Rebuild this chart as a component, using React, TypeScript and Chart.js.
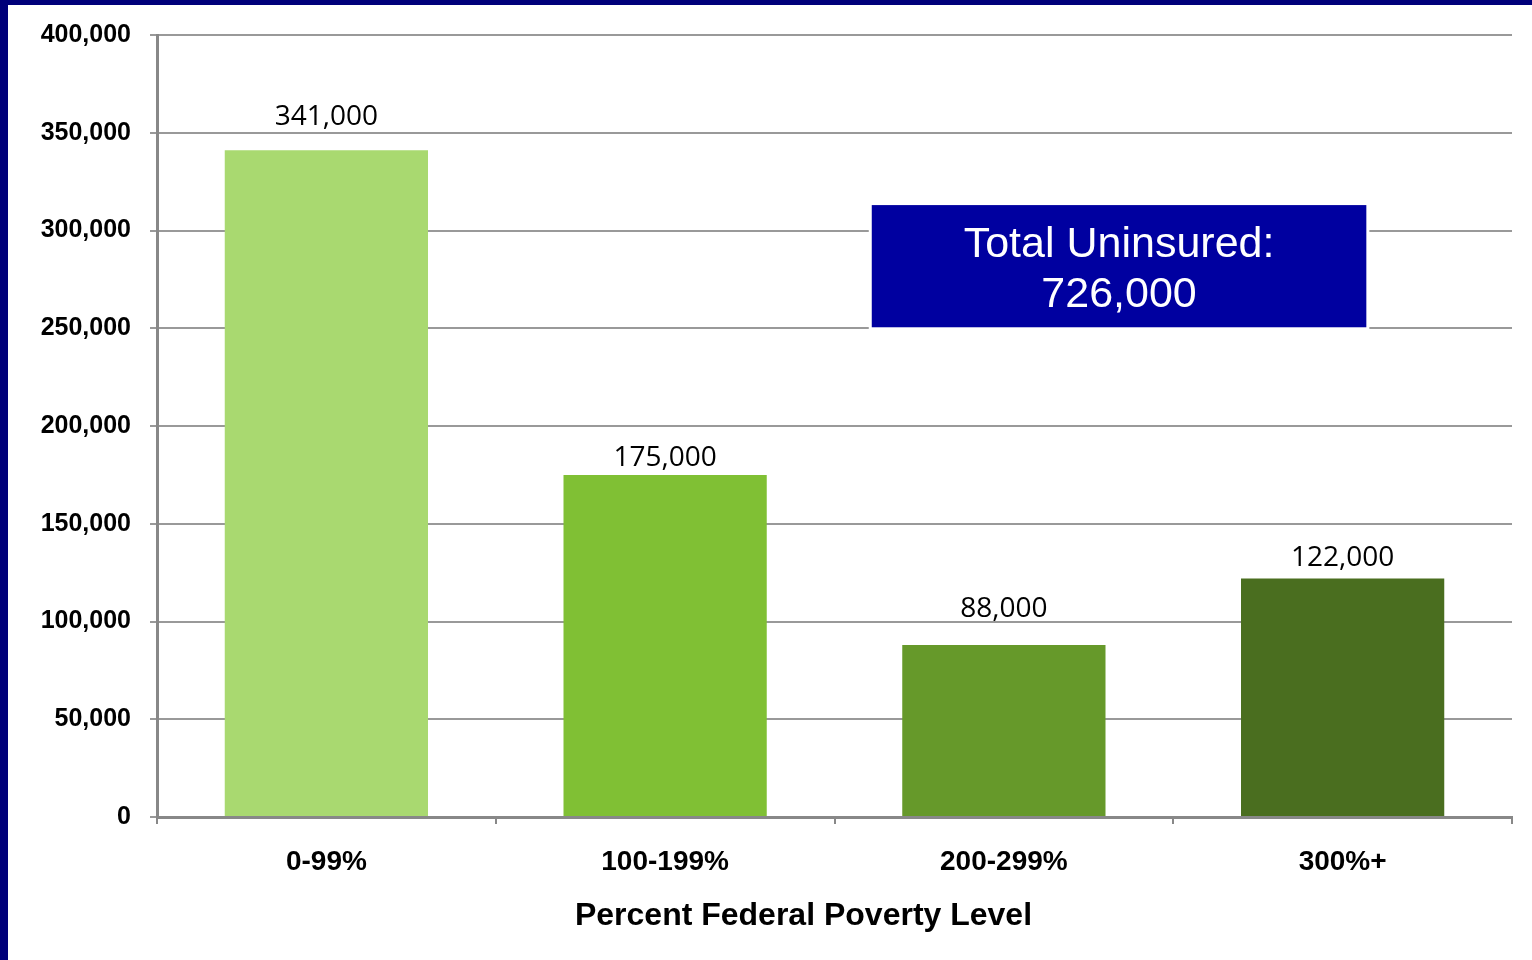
import React, { useEffect, useRef } from "react";
import { Chart, registerables } from "chart.js";

Chart.register(...registerables);

const categories = ["0-99%", "100-199%", "200-299%", "300%+"];
const uninsured = [341000, 175000, 88000, 122000];
const barColors = ["#A9D970", "#80C034", "#66992A", "#4A6E1F"];
const labelLift = [25, 9, 28, 12];
const yTicks = [0, 50000, 100000, 150000, 200000, 250000, 300000, 350000, 400000];
const totalLines = ["Total Uninsured:", "726,000"];
const xTitle = "Percent Federal Poverty Level";

const fmt = (v: number) => v.toLocaleString("en-US");

const overlayPlugin = {
  id: "overlay",
  afterDraw(chart: any) {
    const ctx = chart.ctx;
    const meta = chart.getDatasetMeta(0);
    const area = chart.chartArea;
    ctx.save();
    ctx.fillStyle = "#000000";
    ctx.font = '28px "Open Sans"';
    ctx.textAlign = "center";
    ctx.textBaseline = "alphabetic";
    meta.data.forEach((el: any, i: number) => {
      ctx.fillText(fmt(uninsured[i]), el.x, el.y - labelLift[i]);
    });
    // axis title
    ctx.font = 'bold 32px "Liberation Sans", Arial, sans-serif';
    ctx.textBaseline = "middle";
    ctx.fillText(xTitle, (area.left + area.right) / 2 - 31, area.bottom + 99);
    // total box
    const xs = chart.scales.x;
    const ys = chart.scales.y;
    const step = xs.getPixelForValue(1) - xs.getPixelForValue(0);
    const left = xs.getPixelForValue(1) + step * 0.61;
    const right = xs.getPixelForValue(3) + step * 0.07;
    const top = ys.getPixelForValue(313000);
    const bottom = ys.getPixelForValue(250500);
    ctx.fillStyle = "#0000A0";
    ctx.strokeStyle = "#FFFFFF";
    ctx.lineWidth = 4;
    ctx.strokeRect(left - 1, top - 1, right - left + 2, bottom - top + 2);
    ctx.fillRect(left, top, right - left, bottom - top);
    ctx.fillStyle = "#FFFFFF";
    ctx.font = '43px "Liberation Sans", Arial, sans-serif';
    ctx.textBaseline = "middle";
    const cx = (left + right) / 2;
    ctx.fillText(totalLines[0], cx, top + 40);
    ctx.fillText(totalLines[1], cx, top + 90);
    ctx.restore();
  },
};

export default function App() {
  const ref = useRef<HTMLCanvasElement>(null);
  useEffect(() => {
    document.body.style.margin = "0";
    const chart = new Chart(ref.current!, {
      type: "bar",
      data: {
        labels: categories,
        datasets: [
          {
            data: uninsured,
            backgroundColor: barColors,
            borderWidth: 0,
            barPercentage: 0.6,
            categoryPercentage: 1,
          },
        ],
      },
      options: {
        animation: false,
        responsive: false,
        maintainAspectRatio: false,
        layout: { padding: { top: 35, right: 20, left: 0, bottom: 0 } },
        plugins: { legend: { display: false }, tooltip: { enabled: false } },
        scales: {
          x: {
            afterFit: (s: any) => {
              s.height = 143;
            },
            grid: {
              offset: true,
              drawOnChartArea: false,
              drawTicks: true,
              tickLength: 7,
              color: "#888888",
              lineWidth: 2,
            },
            border: { color: "#888888", width: 3 },
            ticks: {
              color: "#000000",
              padding: 21,
              font: { family: '"Liberation Sans", Arial, sans-serif', size: 28, weight: "bold" },
            },
          },
          y: {
            min: 0,
            max: 400000,
            afterFit: (s: any) => {
              s.width = 157;
            },
            afterBuildTicks: (s: any) => {
              s.ticks = yTicks.map((v) => ({ value: v }));
            },
            grid: {
              color: "#999999",
              lineWidth: 2,
              tickLength: 7,
            },
            border: { color: "#888888", width: 3 },
            ticks: {
              color: "#000000",
              padding: 19,
              callback: (v: any) => fmt(Number(v)),
              font: { family: '"Liberation Sans", Arial, sans-serif', size: 25, weight: "bold" },
            },
          },
        },
      },
      plugins: [overlayPlugin],
    });
    return () => chart.destroy();
  }, []);

  return (
    <div style={{ position: "relative", width: 1532, height: 960, background: "#FFFFFF", overflow: "hidden" }}>
      <canvas ref={ref} width={1532} height={960} style={{ display: "block", width: 1532, height: 960 }} />
      <div style={{ position: "absolute", left: 0, top: 0, width: 1532, height: 5, background: "#00007A" }} />
      <div style={{ position: "absolute", left: 0, top: 0, width: 8, height: 960, background: "#00007A" }} />
    </div>
  );
}
